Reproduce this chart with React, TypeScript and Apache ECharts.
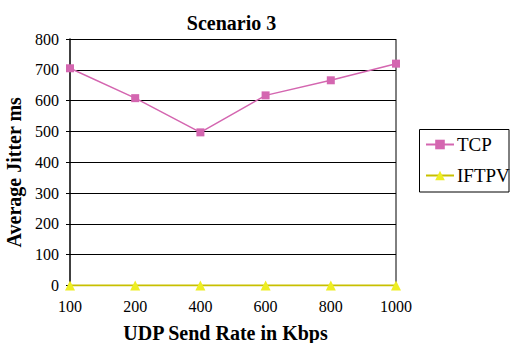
import React, { useEffect, useRef } from "react";
import * as echarts from "echarts";

const sendRates = ["100", "200", "400", "600", "800", "1000"];
const tcpJitter = [705, 608, 497, 617, 666, 720];
const iftpvJitter = [0, 0, 0, 0, 0, 0];
const yTicks = { min: 0, max: 800, interval: 100 };

const SERIF = "Liberation Serif";

export default function App() {
  const ref = useRef<HTMLDivElement>(null);

  useEffect(() => {
    if (!ref.current) return;
    const chart = echarts.init(ref.current, null, { renderer: "svg" });
    chart.setOption({
      animation: false,
      backgroundColor: "#ffffff",
      textStyle: { fontFamily: SERIF },
      title: {
        text: "Scenario 3",
        left: 226.5,
        textAlign: "center",
        top: 8,
        textStyle: { fontFamily: SERIF, fontWeight: "bold", fontSize: 20, color: "#000" },
      },
      grid: {
        left: 70,
        right: 114,
        top: 39,
        bottom: 57.5,
        containLabel: false,
        outerBoundsMode: "none",
      },
      legend: {
        orient: "vertical",
        left: 419,
        top: 129,
        padding: [6, 2, 6, 6],
        itemGap: 12,
        itemWidth: 28,
        itemHeight: 12,
        borderWidth: 0,
        textStyle: { fontFamily: SERIF, fontSize: 19, color: "#000", padding: [0, 0, 0, -2] },
        data: ["TCP", "IFTPV"],
      },
      xAxis: {
        type: "category",
        data: sendRates,
        boundaryGap: false,
        name: "UDP Send Rate in Kbps",
        nameLocation: "middle",
        nameGap: 37,
        nameTextStyle: {
          fontFamily: SERIF,
          fontWeight: "bold",
          fontSize: 20,
          color: "#000",
          padding: [0, 15, 0, 0],
        },
        axisLine: { lineStyle: { color: "#000", width: 1 } },
        axisTick: { show: true, alignWithLabel: true, length: 4, lineStyle: { color: "#000" } },
        axisLabel: { fontFamily: SERIF, fontSize: 16, color: "#000", margin: 13 },
        splitLine: { show: false },
      },
      yAxis: {
        type: "value",
        min: yTicks.min,
        max: yTicks.max,
        interval: yTicks.interval,
        name: "Average Jitter ms",
        nameLocation: "middle",
        nameGap: 44,
        nameTextStyle: {
          fontFamily: SERIF,
          fontWeight: "bold",
          fontSize: 20,
          color: "#000",
          padding: [0, 20, 0, 0],
        },
        axisLine: { show: true, lineStyle: { color: "#000", width: 1.5 } },
        axisTick: { show: true, length: 4, lineStyle: { color: "#000" } },
        axisLabel: { fontFamily: SERIF, fontSize: 16, color: "#000", margin: 11 },
        splitLine: { show: true, lineStyle: { color: "#000", width: 1 } },
      },
      graphic: [
        {
          type: "line",
          shape: { x1: 396, y1: 39, x2: 396, y2: 285.5 },
          style: { stroke: "#000", lineWidth: 1 },
          z: 1,
        },
        {
          type: "rect",
          shape: { x: 419.5, y: 129.5, width: 89.5, height: 62.5 },
          style: { fill: "none", stroke: "#000", lineWidth: 1 },
          z: 1,
        },
      ],
      series: [
        {
          name: "TCP",
          type: "line",
          data: tcpJitter,
          color: "#d466b0",
          symbol: "rect",
          symbolSize: 8,
          lineStyle: { width: 1.5, color: "#d466b0" },
          itemStyle: { color: "#d466b0" },
          z: 3,
        },
        {
          name: "IFTPV",
          type: "line",
          data: iftpvJitter,
          color: "#eeee22",
          symbol: "triangle",
          symbolSize: 10,
          lineStyle: { width: 2, color: "#c8c000" },
          itemStyle: { color: "#eeee22" },
          z: 4,
        },
      ],
    });
    return () => chart.dispose();
  }, []);

  return <div ref={ref} style={{ width: 510, height: 343, position: "absolute", left: 0, top: 0 }} />;
}
